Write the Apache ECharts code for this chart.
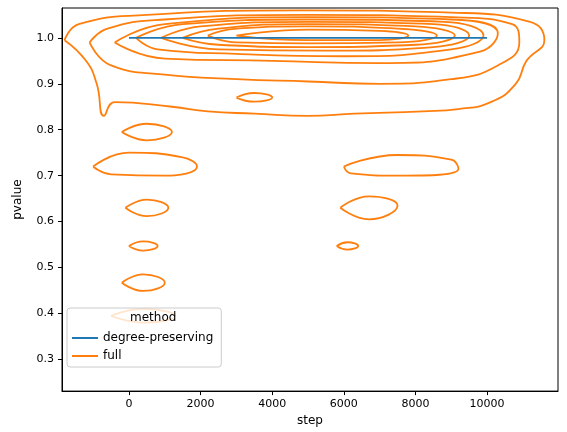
<!DOCTYPE html>
<html><head><meta charset="utf-8">
<script src="https://cdn.jsdelivr.net/npm/echarts@6/dist/echarts.min.js"></script>
<style>html,body{margin:0;background:#fff}#main{width:567px;height:432px}</style>
</head><body><div id="main"></div>
<script>
// degree-preserving: flat at pvalue 1.0
var degreeSteps = [0, 2000, 4000, 6000, 8000, 10000];
var degreeP = [1.0, 1.0, 1.0, 1.0, 1.0, 1.0];

// "full" KDE contour lines as [step, pvalue]
var fullContours = [
  [[-1800,0.995],[-1400,1.03],[500,1.05],[4800,1.06],[9000,1.055],[11200,1.035],[11600,0.995],[11100,0.95],[10800,0.9],[10100,0.86],[9200,0.845],[8200,0.84],[6300,0.835],[5000,0.83],[3500,0.835],[2200,0.84],[1200,0.85],[-400,0.86],[-700,0.83],[-900,0.9],[-1200,0.95],[-1800,0.995]],
  [[-1100,0.99],[-600,1.02],[1000,1.04],[5000,1.05],[9000,1.045],[10700,1.03],[10900,0.99],[10300,0.94],[9000,0.91],[7000,0.9],[5000,0.905],[3000,0.91],[1000,0.92],[-500,0.94],[-1100,0.99]],
  [[-400,0.99],[1000,1.03],[5000,1.045],[9000,1.04],[10300,1.01],[9800,0.97],[7000,0.945],[4000,0.95],[1000,0.955],[-400,0.99]],
  [[200,1.0],[1500,1.03],[5000,1.04],[8800,1.035],[9900,1.005],[9000,0.975],[6000,0.96],[3000,0.965],[800,0.975],[200,1.0]],
  [[900,1.0],[2000,1.025],[5000,1.035],[8500,1.03],[9500,1.005],[8500,0.98],[5500,0.972],[2500,0.975],[900,1.0]],
  [[1500,1.0],[2500,1.02],[5000,1.03],[8000,1.025],[9100,1.005],[8000,0.985],[5000,0.98],[2500,0.985],[1500,1.0]],
  [[2200,1.005],[3000,1.02],[5000,1.025],[7500,1.02],[8600,1.005],[7500,0.99],[5000,0.988],[3000,0.99],[2200,1.005]],
  [[3000,1.005],[5000,1.018],[7000,1.015],[7800,1.005],[7000,0.995],[5000,0.995],[3000,1.005]],
  [[3000,0.87],[3500,0.88],[4000,0.87],[3500,0.861],[3000,0.87]],
  [[-200,0.795],[500,0.813],[1200,0.795],[500,0.777],[-200,0.795]],
  [[-1000,0.72],[0,0.75],[1500,0.74],[1900,0.72],[1000,0.7],[-500,0.703],[-1000,0.72]],
  [[6000,0.72],[7500,0.745],[9000,0.735],[9200,0.715],[7500,0.7],[6200,0.705],[6000,0.72]],
  [[-100,0.63],[500,0.648],[1100,0.63],[500,0.612],[-100,0.63]],
  [[0,0.547],[400,0.557],[800,0.547],[400,0.537],[0,0.547]],
  [[-200,0.467],[400,0.485],[1000,0.467],[400,0.449],[-200,0.467]],
  [[-500,0.395],[400,0.41],[1300,0.395],[400,0.38],[-500,0.395]],
  [[5900,0.63],[6700,0.655],[7500,0.635],[6700,0.605],[5900,0.63]],
  [[5800,0.547],[6100,0.555],[6400,0.547],[6100,0.539],[5800,0.547]]
];
var xTicks = [0, 2000, 4000, 6000, 8000, 10000];
var yTicks = [0.3, 0.4, 0.5, 0.6, 0.7, 0.8, 0.9, 1.0];

var chart = echarts.init(document.getElementById('main'));
var series = [{
  name: 'degree-preserving', type: 'line', showSymbol: false, z: 3,
  data: degreeSteps.map(function (s, i) { return [s, degreeP[i]]; }),
  lineStyle: {width: 1.8, color: '#1f77b4'}, itemStyle: {color: '#1f77b4'}
}];
fullContours.forEach(function (c) {
  series.push({
    name: 'full', type: 'line', showSymbol: false, smooth: 0.5, z: 2,
    data: c, lineStyle: {width: 1.8, color: '#ff7f0e'}, itemStyle: {color: '#ff7f0e'}
  });
});
var labelStyle = {color: '#000', fontSize: 11, fontFamily: 'DejaVu Sans'};
var nameStyle = {color: '#000', fontSize: 12, fontFamily: 'DejaVu Sans'};
chart.setOption({
  animation: false,
  grid: {left: 62, right: 9, top: 8, bottom: 37, show: true, borderColor: '#000', borderWidth: 1},
  xAxis: {type: 'value', min: -1870, max: 11980, name: 'step', nameLocation: 'middle', nameGap: 22,
    nameTextStyle: nameStyle, splitLine: {show: false},
    axisLine: {onZero: false, lineStyle: {color: '#000'}},
    axisTick: {length: 4, customValues: xTicks, lineStyle: {color: '#000'}},
    axisLabel: Object.assign({customValues: xTicks, formatter: function (v) { return String(v); }}, labelStyle)},
  yAxis: {type: 'value', min: 0.231, max: 1.065, name: 'pvalue', nameLocation: 'middle', nameGap: 38,
    nameTextStyle: nameStyle, splitLine: {show: false},
    axisLine: {show: true, onZero: false, lineStyle: {color: '#000'}},
    axisTick: {show: true, length: 4, customValues: yTicks, lineStyle: {color: '#000'}},
    axisLabel: Object.assign({customValues: yTicks, formatter: function (v) { return v.toFixed(1); }}, labelStyle)},
  legend: {
    data: ['degree-preserving', 'full'], orient: 'vertical', left: 67, top: 308,
    padding: [24, 8, 5, 5], itemGap: 6, itemWidth: 26, itemHeight: 2, icon: 'rect',
    backgroundColor: 'rgba(255,255,255,0.8)', borderColor: '#ccc', borderWidth: 1, borderRadius: 3,
    textStyle: {color: '#000', fontSize: 12, fontFamily: 'DejaVu Sans'}
  },
  graphic: [{type: 'text', left: 130, top: 312, z: 100,
    style: {text: 'method', fontSize: 12, fontFamily: 'DejaVu Sans', fill: '#000'}}],
  series: series
});
</script></body></html>
